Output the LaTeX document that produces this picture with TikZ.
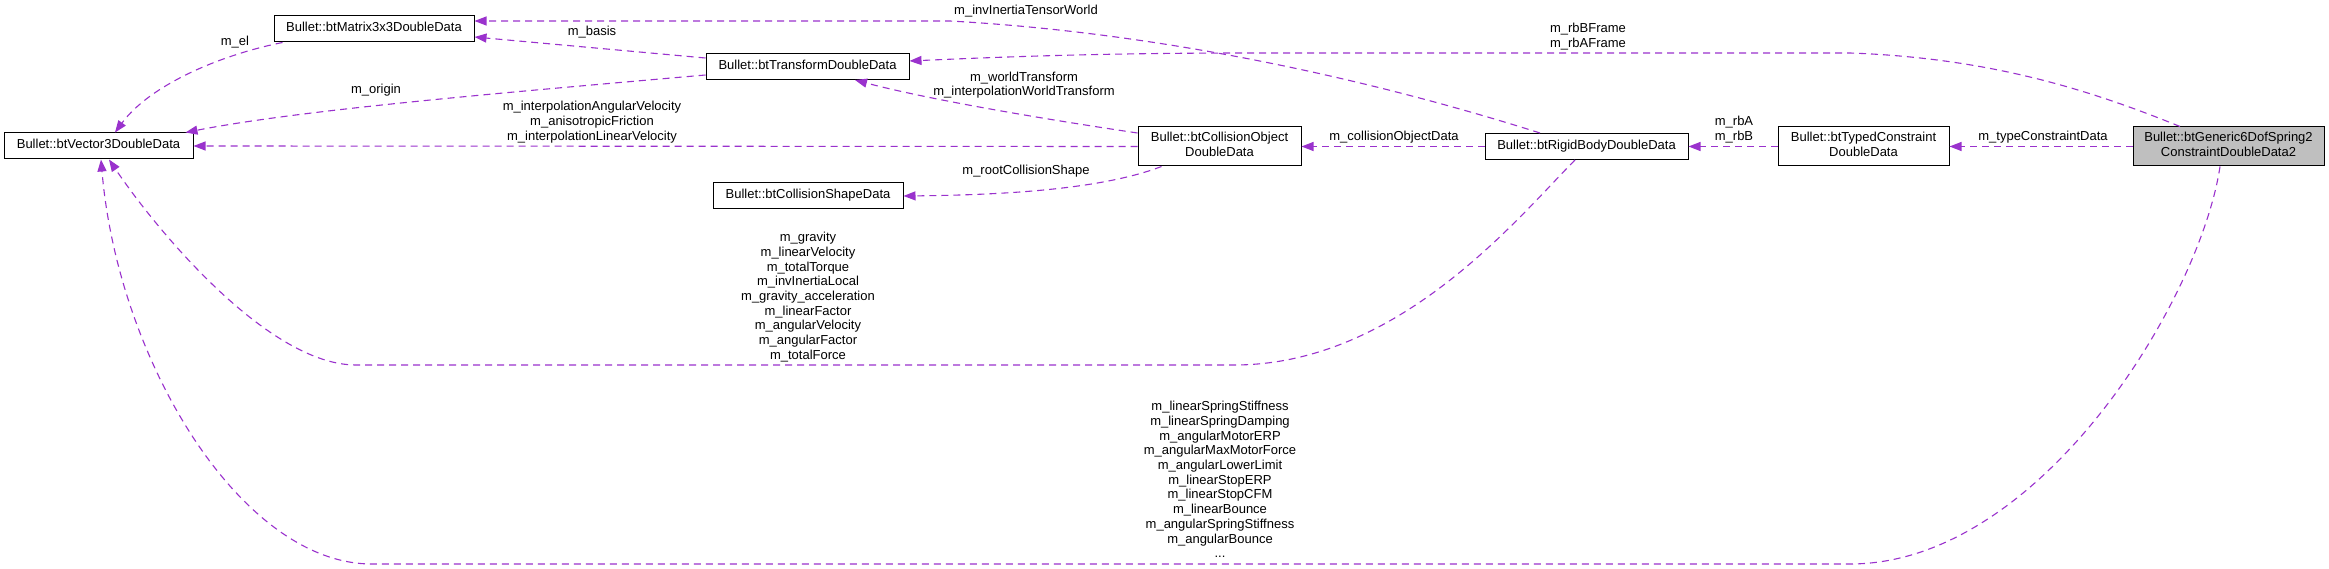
\documentclass[tikz,border=0pt]{standalone}
\usepackage{fontspec}
\setmainfont{Liberation Sans}
\usetikzlibrary{arrows.meta}
\definecolor{edgec}{HTML}{9A32CD}
\definecolor{genfill}{HTML}{BFBFBF}
\begin{document}
\begin{tikzpicture}[x=1pt,y=-1pt,
  box/.style={draw=black, line width=1pt, inner sep=0pt, align=center, fill=white,
    font=\fontsize{13}{14.7}\selectfont, execute at begin node=\strut, execute at end node=\strut},
  lbl/.style={inner sep=0pt, align=center,
    font=\fontsize{13}{14.7}\selectfont, execute at begin node=\strut, execute at end node=\strut},
  edge/.style={draw=edgec, line width=1.1pt, dash pattern=on 7pt off 5pt,
    -{Triangle[length=12pt,width=9pt,fill=edgec]}},
]
\fill[white] (0,0) rectangle (2329,569);
\useasboundingbox (0,0) rectangle (2329,569);

% nodes
\node[box, minimum width=200pt, minimum height=26pt] (mat) at (374,29) {Bullet::btMatrix3x3DoubleData};
\node[box, minimum width=189pt, minimum height=26pt] (vec) at (98.5,146) {Bullet::btVector3DoubleData};
\node[box, minimum width=203pt, minimum height=26pt] (tra) at (807.5,66.5) {Bullet::btTransformDoubleData};
\node[box, minimum width=190pt, minimum height=26pt] (csh) at (808,196) {Bullet::btCollisionShapeData};
\node[box, minimum width=163pt, minimum height=39pt] (cob) at (1219.5,146.5) {Bullet::btCollisionObject\\DoubleData};
\node[box, minimum width=203pt, minimum height=26pt] (rig) at (1586.5,146.5) {Bullet::btRigidBodyDoubleData};
\node[box, minimum width=171pt, minimum height=39pt] (typ) at (1863.5,146.5) {Bullet::btTypedConstraint\\DoubleData};
\node[box, fill=genfill, minimum width=191pt, minimum height=39pt] (gen) at (2228.5,146.5) {Bullet::btGeneric6DofSpring2\\ConstraintDoubleData2};

% edges
\draw[edge] ([xshift=9pt]mat.south west) .. controls (220,55) and (150,85) .. ([xshift=16.5pt]vec.north);
\draw[edge] ([yshift=8.5pt]tra.west) -- ([yshift=-8pt]mat.east);
\draw[edge] ([yshift=-8.5pt]tra.west) .. controls (500,93) and (300,110) .. ([xshift=-8pt]vec.north east);
\draw[edge] ([xshift=-46.5pt]rig.north) .. controls (1420,95) and (1200,35) .. (950,21) -- ([yshift=8pt]mat.east);
\draw[edge] ([xshift=-48.5pt]gen.north) .. controls (2090,90) and (1990,58) .. (1850,53) -- (1250,53)
  .. controls (1100,53) and (1000,57) .. ([yshift=5.5pt]tra.east);
\draw[edge] ([yshift=13.5pt]cob.west) .. controls (1050,120) and (930,100) .. ([xshift=47.5pt]tra.south);
\draw[edge] (cob.west) -- (vec.east);
\draw[edge] ([xshift=24pt]cob.south west) .. controls (1100,190) and (1000,195) .. (csh.east);
\draw[edge] (rig.west) -- (cob.east);
\draw[edge] ([xshift=-11.5pt]rig.south) .. controls (1520,215) and (1400,365) .. (1234,365) -- (356,365)
  .. controls (270,365) and (160,235) .. ([xshift=10.5pt]vec.south);
\draw[edge] (typ.west) -- (rig.east);
\draw[edge] (gen.west) -- (typ.east);
\draw[edge] ([xshift=-8.5pt]gen.south) .. controls (2200,300) and (2040,564) .. (1850,564) -- (370,564)
  .. controls (240,562) and (118,360) .. ([xshift=2.5pt]vec.south);

% labels
\node[lbl] (lel) at (235,43) {m\_el};
\node[lbl] (lbasis) at (592,33) {m\_basis};
\node[lbl] (lorigin) at (376,91) {m\_origin};
\node[lbl] (linv) at (1026,12) {m\_invInertiaTensorWorld};
\node[lbl] (lframe) at (1588,37.5) {m\_rbBFrame\\m\_rbAFrame};
\node[lbl] (lworld) at (1024,86) {m\_worldTransform\\m\_interpolationWorldTransform};
\node[lbl] (linterp) at (592,123) {m\_interpolationAngularVelocity\\m\_anisotropicFriction\\m\_interpolationLinearVelocity};
\node[lbl] (lroot) at (1026,172) {m\_rootCollisionShape};
\node[lbl] (lcod) at (1394,138) {m\_collisionObjectData};
\node[lbl] (lgrav) at (808,298) {m\_gravity\\m\_linearVelocity\\m\_totalTorque\\m\_invInertiaLocal\\m\_gravity\_acceleration\\m\_linearFactor\\m\_angularVelocity\\m\_angularFactor\\m\_totalForce};
\node[lbl] (lrb) at (1734,130.5) {m\_rbA\\m\_rbB};
\node[lbl] (ltype) at (2043,138) {m\_typeConstraintData};
\node[lbl] (lspring) at (1220,481.7) {m\_linearSpringStiffness\\m\_linearSpringDamping\\m\_angularMotorERP\\m\_angularMaxMotorForce\\m\_angularLowerLimit\\m\_linearStopERP\\m\_linearStopCFM\\m\_linearBounce\\m\_angularSpringStiffness\\m\_angularBounce\\...};
\end{tikzpicture}
\end{document}
